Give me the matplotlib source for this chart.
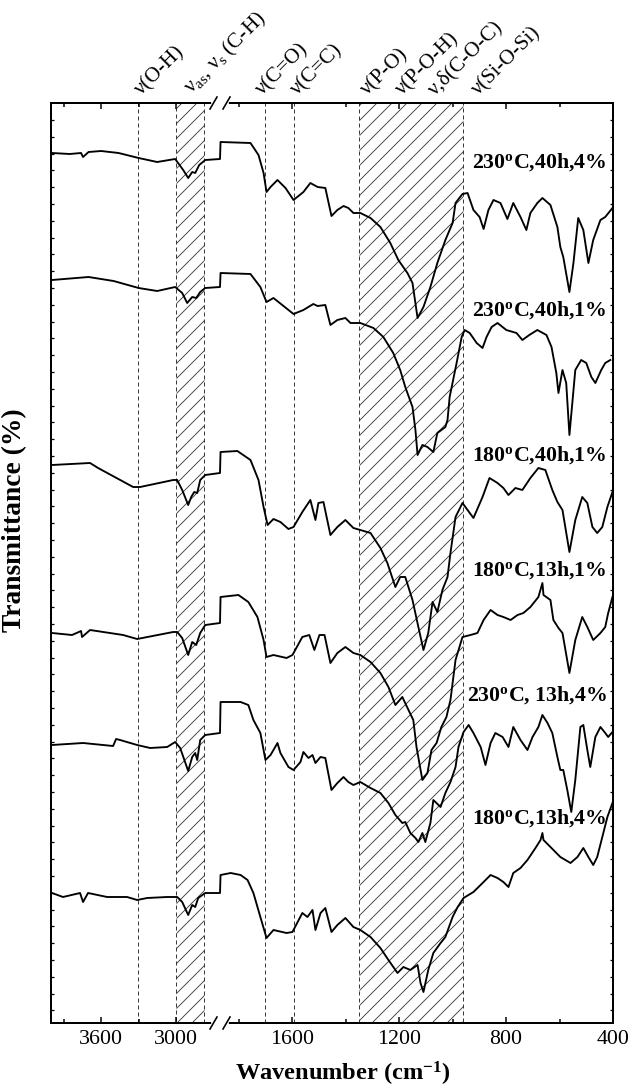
import matplotlib
matplotlib.use('Agg')
import matplotlib.pyplot as plt
import numpy as np

plt.rcParams['font.family'] = ['Liberation Serif', 'DejaVu Serif']
plt.rcParams['mathtext.fontset'] = 'custom'
plt.rcParams['mathtext.rm'] = 'Liberation Serif'
plt.rcParams['mathtext.bf'] = 'Liberation Serif:bold'
plt.rcParams['mathtext.it'] = 'Liberation Serif:italic'
plt.rcParams['hatch.linewidth'] = 0.7

# ---- data (wavenumber in cm-1, transmittance in arbitrary offset units) ----
wn_a = [3992, 3850, 3760, 3744, 3700, 3600, 3460, 3300, 3152, 3008, 2944, 2904, 2872, 2848, 2816, 2768, 2650,
        1868, 1756, 1726, 1707, 1696, 1681, 1655, 1625, 1595, 1558, 1532, 1505, 1476, 1453, 1431, 1408, 1390,
        1371, 1345, 1307, 1270, 1233, 1203, 1169, 1150, 1131, 1109, 1083, 1057, 1027, 1000, 989, 963, 944, 922,
        899, 884, 866, 847, 821, 795, 773, 746, 724, 709, 683, 664, 634, 608, 597, 586, 563, 548, 530, 511, 492,
        474, 447, 429, 402]
T_a = [870, 869, 870, 866, 871, 872, 870, 865, 861, 864, 853, 845, 851, 850, 858, 863, 864,
       881, 880, 868, 850, 831, 836, 843, 835, 823, 831, 840, 836, 835, 807, 813, 817, 815,
       810, 810, 805, 796, 780, 763, 750, 740, 705, 716, 736, 760, 783, 800, 820, 829, 830, 813,
       806, 794, 813, 823, 820, 804, 820, 806, 793, 810, 820, 825, 818, 796, 776, 766, 731, 760, 805, 793, 760,
       783, 803, 806, 815]

wn_b = [3992, 3700, 3500, 3300, 3152, 3008, 2952, 2912, 2872, 2840, 2808, 2768, 2650,
        1868, 1756, 1719, 1696, 1670, 1595, 1558, 1521, 1505, 1476, 1457, 1431, 1401, 1382, 1345, 1296,
        1259, 1222, 1196, 1177, 1150, 1139, 1131, 1113, 1094, 1072, 1057, 1027, 1019, 1011, 985, 966, 955,
        936, 910, 888, 873, 854, 832, 799, 761, 739, 713, 683, 649, 630, 612, 604, 589, 575, 563, 541, 519,
        500, 481, 466, 444, 429, 410]
T_b = [743, 746, 742, 735, 732, 736, 730, 720, 726, 725, 731, 735, 736,
       750, 749, 736, 721, 725, 709, 713, 719, 717, 718, 698, 703, 705, 700, 700, 695,
       686, 670, 653, 636, 616, 593, 568, 578, 576, 571, 590, 596, 603, 626, 660, 686, 693,
       690, 680, 675, 686, 696, 700, 693, 690, 683, 688, 693, 688, 676, 650, 630, 653, 640, 588, 653, 663,
       660, 646, 640, 653, 660, 663]

wn_c = [3992, 3688, 3624, 3344, 3288, 3024, 2992, 2952, 2904, 2880, 2856, 2832, 2808, 2768, 2650,
        1868, 1805, 1756, 1726, 1707, 1692, 1670, 1644, 1614, 1595, 1562, 1532, 1513, 1502, 1483, 1457,
        1431, 1401, 1371, 1345, 1307, 1270, 1244, 1214, 1196, 1177, 1150, 1128, 1109, 1091, 1075, 1057,
        1038, 1019, 1008, 989, 963, 944, 922, 888, 862, 832, 810, 791, 765, 739, 709, 679, 653, 627, 608,
        589, 563, 541, 515, 496, 477, 459, 440, 421, 402]
T_c = [558, 560, 555, 536, 536, 543, 543, 533, 518, 526, 531, 530, 543, 548, 550,
       571, 572, 563, 543, 516, 498, 504, 501, 494, 496, 511, 523, 503, 520, 521, 488,
       496, 503, 495, 493, 490, 475, 460, 436, 446, 446, 423, 396, 373, 390, 421, 411,
       433, 446, 470, 506, 520, 513, 505, 526, 545, 540, 535, 528, 535, 533, 545, 555, 553, 533, 521,
       513, 471, 503, 526, 520, 496, 490, 496, 516, 531]

wn_d = [3992, 3832, 3760, 3752, 3688, 3424, 3312, 3024, 2992, 2952, 2904, 2872, 2840, 2808, 2768, 2650,
        1868, 1801, 1764, 1730, 1707, 1696, 1670, 1621, 1599, 1562, 1536, 1517, 1498, 1479, 1457, 1431,
        1401, 1371, 1345, 1307, 1270, 1240, 1214, 1188, 1165, 1147, 1135, 1113, 1094, 1079, 1060, 1042,
        1023, 1008, 989, 963, 933, 907, 884, 858, 832, 810, 783, 757, 735, 709, 679, 664, 660, 634, 623,
        604, 589, 563, 541, 515, 496, 474, 447, 429, 418, 402]
T_d = [390, 388, 392, 386, 393, 388, 384, 391, 391, 385, 368, 381, 378, 390, 398, 400,
       426, 428, 421, 406, 383, 366, 368, 365, 368, 386, 388, 373, 388, 388, 360, 370,
       376, 370, 368, 361, 350, 336, 318, 326, 313, 303, 276, 243, 250, 273, 280, 296,
       306, 323, 363, 386, 388, 390, 403, 413, 408, 406, 403, 408, 410, 416, 426, 440, 428, 423, 403,
       395, 390, 350, 383, 406, 396, 383, 390, 396, 410, 426]

wn_e = [3992, 3744, 3504, 3480, 3448, 3312, 3208, 3072, 3008, 2968, 2904, 2872, 2848, 2832, 2808, 2768, 2650,
        1868, 1793, 1764, 1745, 1719, 1700, 1681, 1670, 1655, 1644, 1614, 1595, 1569, 1558, 1539, 1524,
        1513, 1494, 1476, 1453, 1431, 1408, 1390, 1371, 1345, 1307, 1270, 1240, 1214, 1188, 1177, 1158,
        1139, 1128, 1113, 1102, 1083, 1072, 1045, 1027, 1008, 989, 978, 959, 940, 922, 895, 877, 858, 840,
        813, 791, 773, 746, 720, 701, 679, 664, 645, 627, 608, 597, 586, 571, 556, 541, 522, 511, 496, 485,
        466, 447, 429, 418, 402]
T_e = [278, 280, 277, 284, 283, 278, 275, 276, 281, 275, 252, 266, 270, 263, 283, 288, 290,
       321, 321, 318, 303, 290, 263, 268, 273, 280, 270, 256, 253, 261, 271, 265, 268,
       260, 266, 265, 233, 240, 246, 241, 238, 241, 235, 230, 220, 208, 200, 201, 190,
       185, 181, 190, 181, 200, 223, 216, 230, 241, 256, 276, 291, 298, 290, 276, 258, 280, 290,
       286, 276, 296, 283, 273, 286, 296, 308, 300, 290, 266, 253, 253, 233, 211, 243, 296, 298, 273, 256,
       286, 296, 290, 286, 291]

wn_f = [3992, 3904, 3768, 3744, 3704, 3552, 3392, 3312, 3232, 3072, 2992, 2952, 2904, 2872, 2848, 2824, 2768, 2650,
        1868, 1830, 1793, 1767, 1745, 1719, 1696, 1670, 1621, 1599, 1562, 1543, 1524, 1513, 1494, 1476,
        1453, 1431, 1401, 1371, 1345, 1307, 1270, 1240, 1206, 1184, 1158, 1131, 1120, 1109, 1091, 1072,
        1045, 1027, 1000, 981, 959, 922, 884, 858, 832, 810, 791, 773, 746, 720, 690, 671, 664, 660, 634,
        597, 559, 533, 511, 492, 474, 459, 440, 421, 402]
T_f = [130, 126, 130, 121, 130, 126, 126, 123, 125, 126, 126, 121, 108, 118, 116, 125, 130, 130,
       148, 150, 148, 143, 130, 106, 85, 93, 90, 91, 110, 106, 113, 93, 110, 115,
       91, 98, 105, 96, 93, 86, 75, 63, 50, 56, 53, 58, 40, 31, 53, 70,
       80, 86, 106, 116, 125, 131, 141, 148, 145, 141, 136, 150, 155, 163, 175, 183, 190, 183, 176,
       166, 160, 166, 175, 166, 158, 166, 186, 206, 220]

spectra = [(wn_a, T_a), (wn_b, T_b), (wn_c, T_c), (wn_d, T_d), (wn_e, T_e), (wn_f, T_f)]
sample_labels = [r'230$^{\mathbf{o}}$C,40h,4%', r'230$^{\mathbf{o}}$C,40h,1%', r'180$^{\mathbf{o}}$C,40h,1%',
                 r'180$^{\mathbf{o}}$C,13h,1%', r'230$^{\mathbf{o}}$C, 13h,4%', r'180$^{\mathbf{o}}$C,13h,4%']
label_height = [861, 713, 568, 453, 328, 205]

band_lines = [3305, 1700, 1595]          # dashed guide lines
bands = [(2780, 3000), (960, 1350)]      # hatched regions
assign_text = ['ν(O-H)', r'ν$_{\mathrm{as}}$, ν$_{\mathrm{s}}$ (C-H)', 'ν(C=O)', 'ν(C=C)',
               'ν(P-O)', 'ν(P-O-H)', 'ν,δ(C-O-C)', 'ν(Si-O-Si)']
assign_wn = [3250, 2842, 1696, 1566, 1304, 1173, 1053, 889]

major_wn = [3600, 3000, 1600, 1200, 800, 400]
major_lab = ['3600', '3000', '1600', '1200', '800', '400']
minor_wn = [3900, 3300, 1800, 1400, 1000, 600]

# ---- broken wavenumber axis: 4000-2650 | 1870-400 ----
LEFT_SPAN = (4000, 2650)
RIGHT_SPAN = (1870, 400)
LEFT_FRAC = 169 / 562.0


def brk(wn):
    wn = np.asarray(wn, dtype=float)
    left = (LEFT_SPAN[0] - wn) / (LEFT_SPAN[0] - LEFT_SPAN[1]) * LEFT_FRAC
    right = LEFT_FRAC + (RIGHT_SPAN[0] - wn) / (RIGHT_SPAN[0] - RIGHT_SPAN[1]) * (1 - LEFT_FRAC)
    return np.where(wn >= LEFT_SPAN[1], left, right)


fig = plt.figure(figsize=(7.0, 12.1), dpi=90)
ax = fig.add_axes([51 / 630, 66 / 1089, 562 / 630, 920 / 1089])

for lo, hi in bands:
    ax.axvspan(brk(hi), brk(lo), facecolor='none', edgecolor='#3a3a3a', hatch='//',
               linestyle=(0, (4, 3)), lw=0.8, zorder=1)
for w in band_lines:
    ax.axvline(brk(w), color='#3a3a3a', ls=(0, (4, 3)), lw=0.8, zorder=1)

for (wn, t), lab, yh in zip(spectra, sample_labels, label_height):
    ax.plot(brk(wn), t, color='black', lw=1.5, zorder=3)
    ax.text(0.989, yh, lab, transform=ax.get_yaxis_transform(), ha='right', va='center',
            fontsize=17.5, fontweight='bold', zorder=4)

for txt, w in zip(assign_text, assign_wn):
    ax.text(float(brk(w)), 1.004, txt, transform=ax.get_xaxis_transform(), rotation=45,
            rotation_mode='anchor', ha='left', va='bottom', fontsize=17)

ax.set_xlim(0, 1)
ax.set_ylim(0, 920)
ax.set_xticks(brk(major_wn))
ax.set_xticklabels(major_lab)
ax.set_xticks(brk(minor_wn), minor=True)
ax.set_yticks(np.arange(903, 0, -16.8))
ax.set_yticklabels([])
ax.tick_params(which='both', direction='in', top=True, right=True)
ax.tick_params(axis='x', which='major', length=4.5, width=1.2, labelsize=17.5, pad=6)
ax.tick_params(axis='x', which='minor', length=3, width=1.2)
ax.tick_params(axis='y', length=2.5, width=1.0)
for s in ax.spines.values():
    s.set_linewidth(1.6)

# break marks "//" on top and bottom spines
for yb in (0, 1):
    ax.plot([LEFT_FRAC - 7 / 562, LEFT_FRAC + 7 / 562], [yb, yb], transform=ax.transAxes,
            color='white', lw=3, clip_on=False, zorder=5)
    for off in (-6.5, 6.5):
        xc = LEFT_FRAC + off / 562
        ax.plot([xc - 3.5 / 562, xc + 3.5 / 562], [yb - 6 / 920, yb + 6 / 920], transform=ax.transAxes,
                color='black', lw=1.3, clip_on=False, zorder=6)

fig.text(343 / 630, 1 - 1074 / 1089, r'Wavenumber (cm$^{\mathbf{-1}}$)', ha='center', va='center',
         fontsize=19.5, fontweight='bold')
fig.text(15 / 630, 1 - 520 / 1089, 'Transmittance (%)', ha='center', va='center', rotation=90,
         fontsize=22, fontweight='bold')

fig.savefig('out.png', dpi=90)
